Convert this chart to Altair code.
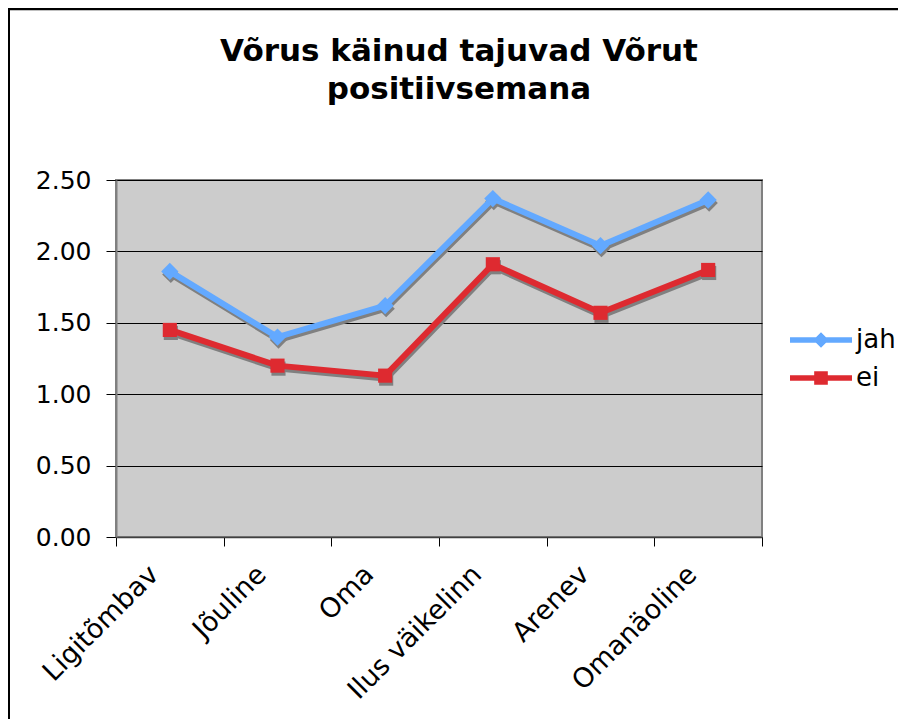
import altair as alt
import pandas as pd

categories = ["Ligitõmbav", "Jõuline", "Oma", "Ilus väikelinn", "Arenev", "Omanäoline"]
series_names = ["jah", "ei"]
jah_values = [1.86, 1.40, 1.62, 2.37, 2.04, 2.36]
ei_values = [1.45, 1.20, 1.13, 1.91, 1.57, 1.87]
y_ticks = [0.0, 0.5, 1.0, 1.5, 2.0, 2.5]
title_lines = ["Võrus käinud tajuvad Võrut", "positiivsemana"]

colors = {"jah": "#63A9FF", "ei": "#DE2A30"}
shapes = {"jah": "diamond", "ei": "square"}
sizes = {"jah": 300, "ei": 200}
shadow = "#808080"

rows = []
for c, a, b in zip(categories, jah_values, ei_values):
    rows.append({"cat": c, "series": "jah", "value": a})
    rows.append({"cat": c, "series": "ei", "value": b})
df = pd.DataFrame(rows)

W, H = 646, 357
FONT = "DejaVu Sans"

x_enc = alt.X(
    "cat:N",
    sort=categories,
    bandPosition=0.5,
    scale=alt.Scale(type="band", paddingInner=0, paddingOuter=0),
    axis=alt.Axis(
        title=None,
        tickBand="extent",
        labelAngle=315,
        labelAlign="right",
        labelBaseline="middle",
        labelFont=FONT,
        labelFontSize=27,
        labelColor="black",
        labelPadding=24,
        labelOffset=-16,
        tickSize=9,
        tickColor="black",
        domainColor="#404040",
        domainWidth=1.5,
        grid=False,
    ),
)
y_enc = alt.Y(
    "value:Q",
    scale=alt.Scale(domain=[0, 2.5], nice=False, zero=True),
    axis=alt.Axis(
        title=None,
        values=y_ticks,
        format=".2f",
        labelFont=FONT,
        labelFontSize=25,
        labelColor="black",
        labelPadding=15,
        tickSize=10,
        tickColor="black",
        domainColor="#808080",
        domainWidth=2,
        grid=True,
        gridColor="black",
        gridWidth=1,
    ),
)

base = alt.Chart(df)
layers = []
# shadows
for s in series_names:
    sub = base.transform_filter(alt.datum.series == s)
    layers.append(
        sub.mark_line(color=shadow, strokeWidth=6, xOffset=1, yOffset=3).encode(x=x_enc, y=y_enc)
    )
    layers.append(
        sub.mark_point(shape=shapes[s], filled=True, color=shadow, size=sizes[s], opacity=1,
                       xOffset=1, yOffset=3).encode(x=x_enc, y=y_enc)
    )
# series
for s in series_names:
    sub = base.transform_filter(alt.datum.series == s)
    layers.append(
        sub.mark_line(color=colors[s], strokeWidth=6).encode(x=x_enc, y=y_enc)
    )
    layers.append(
        sub.mark_point(shape=shapes[s], filled=True, color=colors[s], size=sizes[s], opacity=1)
        .encode(x=x_enc, y=y_enc)
    )

path_jah = "M-1,-0.09H1V0.09H-1Z M0,-0.25L0.25,0L0,0.25L-0.25,0Z"
path_ei = "M-1,-0.09H1V0.09H-1Z M-0.22,-0.22H0.22V0.22H-0.22Z"

legend_layer = base.transform_filter("false").mark_point(filled=True, opacity=1).encode(
    x=x_enc,
    y=y_enc,
    color=alt.Color(
        "series:N",
        scale=alt.Scale(domain=series_names, range=[colors[s] for s in series_names]),
        legend=alt.Legend(
            title=None,
            orient="none",
            legendX=674,
            legendY=141,
            padding=0,
            symbolSize=3844,
            clipHeight=38,
            symbolStrokeWidth=0,
            symbolOpacity=1,
            labelFont=FONT,
            labelFontSize=26,
            labelColor="black",
            labelOffset=4,
            rowPadding=0,
        ),
    ),
    shape=alt.Shape(
        "series:N",
        scale=alt.Scale(domain=series_names, range=[path_jah, path_ei]),
    ),
)
layers.append(legend_layer)

# title as text, one layer per line
for line, ypos in zip(title_lines, [-119, -81]):
    tdf = pd.DataFrame({"line": [line]})
    layers.append(
        alt.Chart(tdf).mark_text(
            font=FONT, fontSize=31, fontWeight="bold", color="black",
            align="center", baseline="alphabetic"
        ).encode(text="line:N", x=alt.value(343), y=alt.value(ypos))
    )

frame_df = pd.DataFrame({"k": [0]})
frame_left = alt.Chart(frame_df).mark_rule(color="black", strokeWidth=2).encode(
    x=alt.value(-107), y=alt.value(-171), y2=alt.value(H + 190)
)
frame_top = alt.Chart(frame_df).mark_rule(color="black", strokeWidth=2.5).encode(
    x=alt.value(-108), x2=alt.value(W + 140), y=alt.value(-171)
)
layers += [frame_left, frame_top]

chart = alt.layer(*layers).properties(
    width=W,
    height=H,
    autosize=alt.AutoSizeParams(type="none"),
    padding={"left": 108, "top": 172, "right": 136, "bottom": 182},
    background="white",
).configure_view(
    fill="#CCCCCC", stroke="#808080", strokeWidth=2
)

chart.save("out.html", embed_options={"renderer": "svg", "actions": False})
